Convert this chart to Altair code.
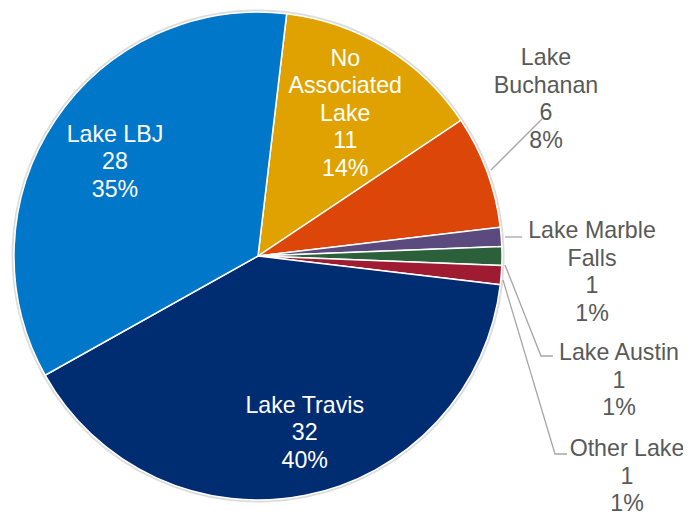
import math
import altair as alt
import pandas as pd

# ---- data ----
categories = ["No Associated Lake", "Lake Buchanan", "Lake Marble Falls",
              "Lake Austin", "Other Lake", "Lake Travis", "Lake LBJ"]
label_names = ["No\nAssociated\nLake", "Lake\nBuchanan", "Lake Marble\nFalls",
               "Lake Austin", "Other Lake", "Lake Travis", "Lake LBJ"]
values = [11, 6, 1, 1, 1, 32, 28]
colors = ["#E0A200", "#DC4609", "#5B4A7E", "#2B603B", "#9E1B32", "#002D72", "#0077C8"]

total = sum(values)
df = pd.DataFrame({
    "name": categories,
    "value": values,
    "order": list(range(len(categories))),
})
df["text"] = [f"{l}\n{v}\n{round(v / total * 100)}%" for l, v in zip(label_names, values)]

# ---- layout (annotation placement, pixels in view) ----
W, H = 500, 496
R = 244
start = math.radians(6.75)
FS, LH = 23.2, 27.5
inner_label_style = {  # name: (radius, dx, dy)
    "Lake LBJ": (172, 0, -LH + 2),
    "No Associated Lake": (167, 0, -2 * LH),
    "Lake Travis": (183, 11, -LH - 2),
}
outer_label_pos = {
    "Lake Buchanan": (538, 50),
    "Lake Marble Falls": (584, 223),
    "Lake Austin": (611, 345),
    "Other Lake": (619, 441),
}
leader_pts = {
    "Lake Buchanan": [(483, 162), (534, 111)],
    "Lake Marble Falls": [(497, 229), (514, 229)],
    "Lake Austin": [(497, 257), (533, 348), (545, 348)],
    "Other Lake": [(495, 272), (547, 446), (559, 446)],
}

out_df = pd.DataFrame({
    "name": list(outer_label_pos.keys()),
    "text": [df.loc[df["name"] == n, "text"].iloc[0] for n in outer_label_pos],
    "px": [p[0] for p in outer_label_pos.values()],
    "py": [p[1] for p in outer_label_pos.values()],
})
lines_rows = []
for n, pts in leader_pts.items():
    for k, (px, py) in enumerate(pts):
        lines_rows.append({"line": n, "seq": k, "px": px, "py": py})
lines_df = pd.DataFrame(lines_rows)

font = "Liberation Sans"
theta_enc = alt.Theta("value:Q", stack=True,
                      scale=alt.Scale(domain=[0, total], range=[start, start + 2 * math.pi]))

shadow = alt.Chart(df).mark_arc(radius=R + 2.5, color="#c4c4c4", opacity=0.6).encode(
    theta=theta_enc,
    order=alt.Order("order:Q"),
)

pie = alt.Chart(df).mark_arc(radius=R, stroke="white", strokeWidth=1.5).encode(
    theta=theta_enc,
    color=alt.Color("name:N", scale=alt.Scale(domain=categories, range=colors), legend=None),
    order=alt.Order("order:Q"),
)

inner_layers = []
for n, (rad, dx, dy) in inner_label_style.items():
    d = df.copy()
    d["lbl"] = [t if nm == n else "" for nm, t in zip(d["name"], d["text"])]
    inner_layers.append(
        alt.Chart(d).mark_text(
            radius=rad, dx=dx, dy=dy, lineBreak="\n", font=font, fontSize=FS,
            lineHeight=LH, color="white", align="center", baseline="middle"
        ).encode(theta=theta_enc, text="lbl:N", order=alt.Order("order:Q"))
    )

leaders = alt.Chart(lines_df).mark_line(color="#a6a6a6", strokeWidth=1.3).encode(
    x=alt.X("px:Q", scale=None),
    y=alt.Y("py:Q", scale=None),
    detail="line:N",
    order="seq:Q",
)

outer_text = alt.Chart(out_df).mark_text(
    lineBreak="\n", font=font, fontSize=FS, lineHeight=LH,
    color="#595959", align="center", baseline="middle"
).encode(
    x=alt.X("px:Q", scale=None),
    y=alt.Y("py:Q", scale=None),
    text="text:N",
)

chart = alt.layer(shadow, pie, *inner_layers, leaders, outer_text).properties(
    width=W, height=H,
    background="white",
    autosize=alt.AutoSizeParams(type="none"),
    padding={"left": 0, "top": 0, "right": 175, "bottom": 11},
).configure_view(strokeWidth=0, stroke="transparent")

chart.save("out.html", embed_options={"renderer": "svg", "actions": False})
